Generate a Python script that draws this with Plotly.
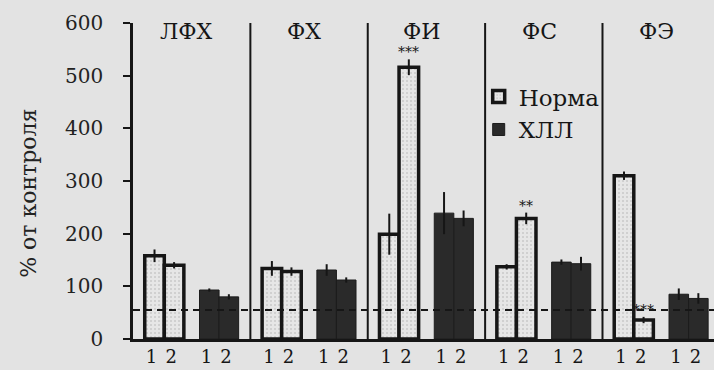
import plotly.graph_objects as go

# Fractions and measured activity, % of control
groups = ["ЛФХ", "ФХ", "ФИ", "ФС", "ФЭ"]
series = ["Норма", "ХЛЛ"]
sub_labels = ["1", "2"]
y_title = "% от контроля"

norma_1 = [158, 134, 199, 137, 310]
norma_1_err = [12, 14, 39, 5, 8]
norma_2 = [140, 128, 516, 229, 36]
norma_2_err = [6, 8, 15, 11, 6]

hll_1 = [93, 131, 239, 146, 85]
hll_1_err = [3, 11, 40, 5, 11]
hll_2 = [80, 112, 229, 143, 77]
hll_2_err = [5, 5, 15, 13, 10]

# significance marks over the second "Норма" bar of each group
norma_2_sig = ["", "", "***", "**", "***"]

reference_level = 55
y_ticks = [0, 100, 200, 300, 400, 500, 600]

# layout of each group along the x axis (group width in axis units)
GROUP_W = 6
NORMA_OFF = [1.1, 2.1]
HLL_OFF = [3.9, 4.9]
BAR_W = 1.0
TICK_SHIFT = -0.15
FONT = "DejaVu Serif"
INK = "#161616"
BG = "#e3e3e3"


def positions(offsets):
    xs = []
    for g in range(len(groups)):
        for off in offsets:
            xs.append(g * GROUP_W + off)
    return xs


def interleave(a, b):
    out = []
    for u, v in zip(a, b):
        out += [u, v]
    return out


norma_x = positions(NORMA_OFF)
hll_x = positions(HLL_OFF)

fig = go.Figure()

fig.add_trace(go.Bar(
    name=series[0], legendgroup="n",
    x=norma_x, y=interleave(norma_1, norma_2), width=BAR_W,
    marker=dict(color="#e4e4e4", line=dict(color=INK, width=3.5),
                pattern=dict(shape=".", fgcolor="#adadad", bgcolor="#e6e6e6",
                             size=4, solidity=0.2)),
    error_y=dict(type="data", array=interleave(norma_1_err, norma_2_err),
                 color=INK, thickness=2, width=0),
))

fig.add_trace(go.Bar(
    name=series[1], legendgroup="h",
    x=hll_x, y=interleave(hll_1, hll_2), width=BAR_W,
    marker=dict(color="#2a2a2a", line=dict(color="#1c1c1c", width=1)),
    error_y=dict(type="data", array=interleave(hll_1_err, hll_2_err),
                 color=INK, thickness=2, width=0),
))

# group boundaries
for g in range(1, len(groups)):
    fig.add_shape(type="line", xref="x", yref="paper",
                  x0=g * GROUP_W, x1=g * GROUP_W, y0=0, y1=1,
                  line=dict(color=INK, width=2))

# dashed reference level
fig.add_shape(type="line", xref="paper", yref="y", x0=0, x1=1,
              y0=reference_level, y1=reference_level,
              line=dict(color=INK, width=2, dash="7px,5px"))

# group names
for g, name in enumerate(groups):
    fig.add_annotation(x=g * GROUP_W + 2.76, y=583, xref="x", yref="y",
                       text=name, showarrow=False, yanchor="middle",
                       font=dict(family=FONT, size=22, color=INK))

# significance marks
for g, mark in enumerate(norma_2_sig):
    if mark:
        fig.add_annotation(x=g * GROUP_W + NORMA_OFF[1],
                           y=norma_2[g] + norma_2_err[g],
                           xref="x", yref="y", text=mark, showarrow=False,
                           yanchor="bottom", yshift=-3,
                           font=dict(family=FONT, size=14, color=INK))

# vertical axis caption
fig.add_annotation(x=-0.181, y=0.462, xref="paper", yref="paper",
                   text=y_title, textangle=-90, showarrow=False,
                   xanchor="center", yanchor="middle",
                   font=dict(family=FONT, size=22, color="#222222"))

tick_vals = [v + TICK_SHIFT for v in sorted(norma_x + hll_x)]
tick_text = sub_labels * (2 * len(groups))

fig.update_layout(
    width=714, height=370,
    margin=dict(l=133, r=0, t=23, b=31),
    paper_bgcolor=BG, plot_bgcolor=BG,
    barmode="overlay",
    font=dict(family=FONT, color=INK),
    showlegend=True,
    legend=dict(x=0.595, y=0.835, xanchor="left", yanchor="top",
                bgcolor="rgba(0,0,0,0)", font=dict(family=FONT, size=23, color=INK),
                tracegroupgap=16, traceorder="normal"),
    xaxis=dict(range=[0, 29.7], showgrid=False, zeroline=False,
               showline=True, linecolor=INK, linewidth=2.5,
               tickvals=tick_vals, ticktext=tick_text, ticks="",
               tickfont=dict(family=FONT, size=18, color=INK)),
    yaxis=dict(range=[0, 600], tickvals=y_ticks, showgrid=False, zeroline=False,
               showline=True, linecolor=INK, linewidth=2.5,
               ticks="outside", ticklen=7, tickwidth=2, tickcolor=INK,
               ticklabelstandoff=16,
               tickfont=dict(family=FONT, size=20, color="#222222")),
)

fig.write_html("out.html")
